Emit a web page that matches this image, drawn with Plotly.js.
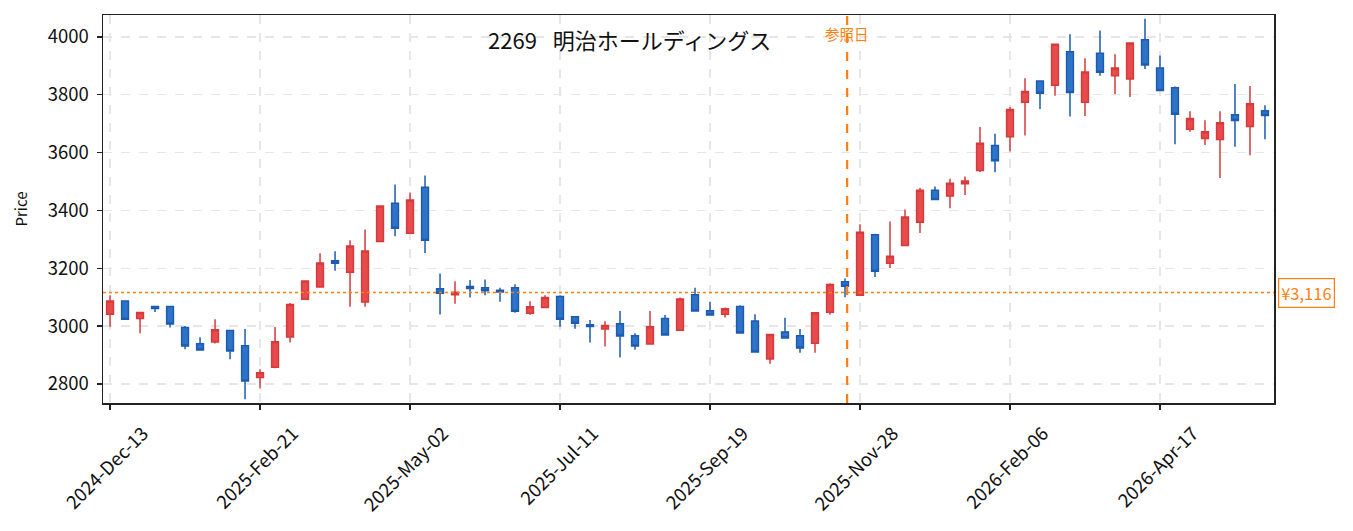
<!DOCTYPE html>
<html>
<head>
<meta charset="utf-8">
<script src="https://cdn.plot.ly/plotly-3.0.1.min.js"></script>
<style>
  html, body { margin: 0; padding: 0; background: #fff; }
  #chart { width: 1353px; height: 531px; }
</style>
</head>
<body>
<div id="chart"></div>
<script>
// weekly bars, 2269 Meiji Holdings
var weeks = [
    '2024-12-13', '2024-12-20', '2024-12-27', '2025-01-03', '2025-01-10', '2025-01-17',
    '2025-01-24', '2025-01-31', '2025-02-07', '2025-02-14', '2025-02-21', '2025-02-28',
    '2025-03-07', '2025-03-14', '2025-03-21', '2025-03-28', '2025-04-04', '2025-04-11',
    '2025-04-18', '2025-04-25', '2025-05-02', '2025-05-09', '2025-05-16', '2025-05-23',
    '2025-05-30', '2025-06-06', '2025-06-13', '2025-06-20', '2025-06-27', '2025-07-04',
    '2025-07-11', '2025-07-18', '2025-07-25', '2025-08-01', '2025-08-08', '2025-08-15',
    '2025-08-22', '2025-08-29', '2025-09-05', '2025-09-12', '2025-09-19', '2025-09-26',
    '2025-10-03', '2025-10-10', '2025-10-17', '2025-10-24', '2025-10-31', '2025-11-07',
    '2025-11-14', '2025-11-21', '2025-11-28', '2025-12-05', '2025-12-12', '2025-12-19',
    '2025-12-26', '2026-01-02', '2026-01-09', '2026-01-16', '2026-01-23', '2026-01-30',
    '2026-02-06', '2026-02-13', '2026-02-20', '2026-02-27', '2026-03-06', '2026-03-13',
    '2026-03-20', '2026-03-27', '2026-04-03', '2026-04-10', '2026-04-17', '2026-04-24',
    '2026-05-01', '2026-05-08', '2026-05-15', '2026-05-22', '2026-05-29', '2026-06-05'
];

var opens = [
    3041, 3087, 3026, 3068, 3068, 2995, 2939, 2945, 2985, 2932, 2822, 2858, 2962,
    3093, 3135, 3226, 3186, 3083, 3293, 3425, 3321, 3480, 3129, 3108, 3137, 3133,
    3124, 3133, 3044, 3064, 3102, 3032, 3005, 2990, 3008, 2967, 2938, 3026, 2986,
    3108, 3053, 3041, 3068, 3018, 2886, 2980, 2967, 2941, 3048, 3153, 3107, 3316,
    3217, 3279, 3359, 3470, 3450, 3492, 3538, 3625, 3655, 3774, 3848, 3833, 3949,
    3774, 3944, 3866, 3855, 3990, 3893, 3824, 3681, 3649, 3645, 3731, 3690, 3745
];
var highs = [
    3107, 3089, 3048, 3068, 3068, 3000, 2961, 3024, 2985, 2990, 2851, 2997, 3080,
    3158, 3252, 3259, 3297, 3334, 3415, 3490, 3462, 3521, 3182, 3155, 3159, 3161,
    3133, 3145, 3086, 3107, 3107, 3032, 3021, 3017, 3052, 2975, 3052, 3038, 3099,
    3133, 3084, 3064, 3072, 3041, 2971, 3029, 2990, 3046, 3148, 3165, 3352, 3319,
    3362, 3403, 3478, 3483, 3510, 3517, 3689, 3665, 3758, 3857, 3848, 3975, 4009,
    3926, 4022, 3940, 3979, 4063, 3936, 3829, 3743, 3712, 3743, 3837, 3830, 3764
];
var lows = [
    2998, 3022, 2975, 3049, 2995, 2920, 2917, 2940, 2885, 2747, 2784, 2854, 2943,
    3092, 3135, 3191, 3067, 3067, 3293, 3311, 3321, 3253, 3040, 3077, 3099, 3107,
    3084, 3046, 3039, 3064, 2998, 2991, 2943, 2929, 2891, 2918, 2938, 2969, 2984,
    3052, 3038, 3030, 2976, 2910, 2870, 2959, 2908, 2908, 3039, 3100, 3107, 3170,
    3201, 3279, 3322, 3438, 3408, 3453, 3533, 3532, 3604, 3659, 3751, 3797, 3725,
    3727, 3866, 3803, 3792, 3889, 3815, 3629, 3672, 3626, 3512, 3620, 3591, 3646
];
var closes = [
    3087, 3024, 3047, 3061, 3007, 2931, 2917, 2987, 2914, 2810, 2839, 2946, 3075,
    3156, 3218, 3217, 3277, 3260, 3415, 3338, 3436, 3297, 3114, 3117, 3130, 3122,
    3118, 3051, 3067, 3099, 3024, 3010, 2999, 3002, 2966, 2931, 2998, 2969, 3094,
    3052, 3038, 3060, 2976, 2910, 2971, 2959, 2924, 3046, 3144, 3138, 3325, 3190,
    3242, 3377, 3470, 3438, 3494, 3502, 3632, 3572, 3749, 3811, 3805, 3975, 3808,
    3879, 3878, 3893, 3979, 3903, 3815, 3733, 3718, 3672, 3703, 3711, 3769, 3728
];

var refPrice = 3116;
var refDate = '2025-11-22';
var chartTitle = '2269\u2002 明治ホールディングス';

var FONT = '"Noto Sans CJK JP", "Noto Sans", sans-serif';
var ORANGE = '#ff7f0e';

var trace = {
    type: 'candlestick',
    x: weeks,
    open: opens,
    high: highs,
    low: lows,
    close: closes,
    increasing: { line: { color: '#d63a3c', width: 1.5 }, fillcolor: '#e84b4b' },
    decreasing: { line: { color: '#1d5bb0', width: 1.5 }, fillcolor: '#2d74c8' },
    whiskerwidth: 0,
    hoverinfo: 'x+y'
};

var layout = {
    width: 1353,
    height: 531,
    margin: { l: 103, r: 79, t: 15, b: 128 },
    paper_bgcolor: '#fff',
    plot_bgcolor: '#fff',
    showlegend: false,
    boxgap: 0.35,
    font: { family: FONT, size: 16, color: '#000' },
    xaxis: {
        type: 'date',
        range: ['2024-12-09 17:00', '2026-06-09 05:00'],
        rangeslider: { visible: false },
        tick0: '2024-12-13',
        dtick: 70 * 86400000,
        tickformat: '%Y-%b-%d',
        tickangle: -45,
        ticklabelshift: 33,
        ticklabelstandoff: 6,
        ticks: 'outside',
        ticklen: 5,
        tickwidth: 1.3,
        tickcolor: '#222',
        showline: true,
        linecolor: '#222',
        linewidth: 1.5,
        mirror: true,
        showgrid: true,
        gridcolor: '#e6e6e6',
        griddash: 'dash',
        gridwidth: 1.2,
        zeroline: false,
        tickfont: { family: FONT, size: 18.5, color: '#111' }
    },
    yaxis: {
        range: [2734, 4076],
        tick0: 2800,
        dtick: 200,
        ticks: 'outside',
        ticklen: 5,
        tickwidth: 1.3,
        tickcolor: '#222',
        showline: true,
        linecolor: '#222',
        linewidth: 1.5,
        mirror: true,
        showgrid: true,
        gridcolor: '#e6e6e6',
        griddash: 'dash',
        gridwidth: 1.2,
        zeroline: false,
        ticklabelstandoff: 4,
        tickfont: { family: FONT, size: 18.5, color: '#111' },
        title: { text: 'Price', font: { family: FONT, size: 15, color: '#111' }, standoff: 16 }
    },
    shapes: [
        {
            type: 'line', xref: 'paper', yref: 'y',
            x0: 0, x1: 1, y0: refPrice, y1: refPrice,
            line: { color: ORANGE, width: 1.6, dash: 'dot' }
        },
        {
            type: 'line', xref: 'x', yref: 'paper',
            x0: refDate, x1: refDate, y0: 0, y1: 1,
            line: { color: ORANGE, width: 2.2, dash: 'dash' }
        }
    ],
    annotations: [
        {
            text: chartTitle, xref: 'paper', yref: 'paper',
            x: 0.45, y: 0.938, xanchor: 'center', yanchor: 'middle',
            showarrow: false,
            font: { family: FONT, size: 22, color: '#111' }
        },
        {
            text: '参照日', xref: 'x', yref: 'paper',
            x: refDate, y: 0.952, xanchor: 'center', yanchor: 'middle',
            showarrow: false,
            font: { family: FONT, size: 14.5, color: ORANGE }
        },
        {
            text: '¥3,116', xref: 'paper', yref: 'y',
            x: 1.003, y: refPrice, xanchor: 'left', yanchor: 'middle',
            showarrow: false,
            bgcolor: '#fff',
            bordercolor: ORANGE, borderwidth: 1.2, borderpad: 2,
            font: { family: FONT, size: 16.5, color: ORANGE }
        }
    ]
};

Plotly.newPlot('chart', [trace], layout, { displayModeBar: false, staticPlot: true });
</script>
</body>
</html>
